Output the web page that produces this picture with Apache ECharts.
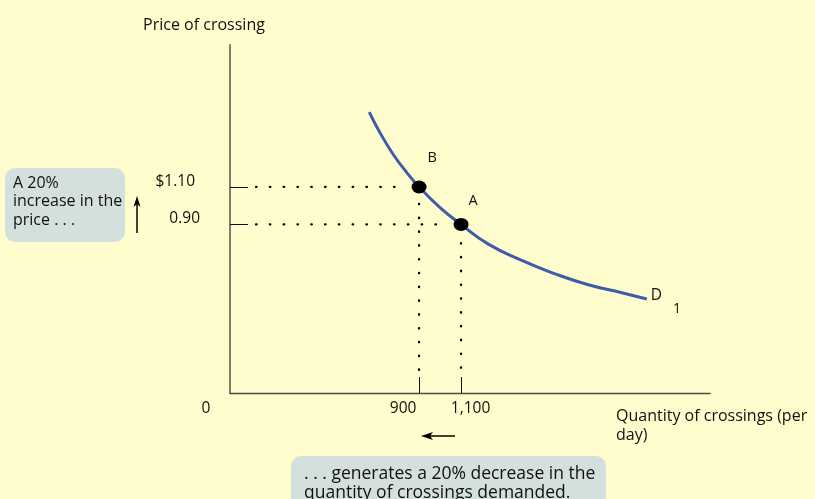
<!DOCTYPE html>
<html>
<head>
<meta charset="utf-8">
<script src="https://cdn.jsdelivr.net/npm/echarts@6/dist/echarts.min.js"></script>
<style>
html,body{margin:0;padding:0;background:#FFFDCD;}
#chart{width:815px;height:499px;}
</style>
</head>
<body>
<div id="chart"></div>
<script>
// Demand curve D1 (quantity of crossings per day, price of crossing)
const curveQuantity = [663, 714, 778, 841, 900, 1000, 1100, 1230, 1389, 1548, 1706, 1865, 1984];
const curvePrice    = [1.50, 1.39, 1.272, 1.178, 1.10, 0.99, 0.90, 0.795, 0.708, 0.636, 0.578, 0.535, 0.502];
// Labelled points
const pointNames    = ['B', 'A'];
const pointQuantity = [900, 1100];
const pointPrice    = [1.10, 0.90];
// Tick labels
const xTickValues = [0, 900, 1100];
const xTickLabels = ['0', '900', '1,100'];
const yTickValues = [0.90, 1.10];
const yTickLabels = ['0.90', '$1.10'];

const FONT = '"Open Sans", sans-serif';
const FS = 16;
const chart = echarts.init(document.getElementById('chart'));

const curveData = curveQuantity.map((q, i) => [q, curvePrice[i]]);
const labelOffsets = [[13, -10], [12, -5]];
const pointData = pointQuantity.map((q, i) => ({
  name: pointNames[i], value: [q, pointPrice[i]],
  label: { offset: labelOffsets[i] }
}));

// dotted guide lines (from axes to the points)
const xMax = 2285, yMax = 1.858;
const hStart = 124;          // horizontal guides begin a little right of the y axis
const vEnd = 0.107;          // vertical guides stop above the x-axis ticks
const guides = [
  [[hStart, pointPrice[0]], [pointQuantity[0] - 90, pointPrice[0]]],
  [[hStart, pointPrice[1]], [pointQuantity[1] - 95, pointPrice[1]]],
  [[pointQuantity[0], pointPrice[0] - 0.09], [pointQuantity[0], vEnd]],
  [[pointQuantity[1], pointPrice[1] - 0.10], [pointQuantity[1], vEnd]]
];
const guideSeries = guides.map(g => ({
  type: 'line', data: g, showSymbol: false, silent: true, z: 1,
  lineStyle: { color: '#000', width: 2.3, type: [0.5, 13.3], cap: 'round' }
}));

const txt = (extra) => Object.assign({ fontFamily: FONT, fontSize: FS, color: '#111' }, extra);

chart.setOption({
  backgroundColor: '#FFFDCD',
  animation: false,
  grid: { left: 230, right: 105, top: 45, bottom: 106 },
  xAxis: {
    type: 'value', min: 0, max: xMax,
    splitLine: { show: false },
    axisLine: { show: true, onZero: false, lineStyle: { color: '#4a4a40', width: 1.3 } },
    axisTick: { show: true, inside: true, length: 16, customValues: [900, 1100], lineStyle: { color: '#111', width: 1 } },
    axisLabel: {
      customValues: xTickValues, margin: 8,
      formatter: v => { const l = xTickLabels[xTickValues.indexOf(v)]; return '{' + (l === '0' ? 'z' : l === '900' ? 'n' : 'e') + '|' + l + '}'; },
      rich: {
        z: txt({ fontSize: 15.5, padding: [0, 48, 0, 0] }),
        n: txt({ fontSize: 15.5, padding: [0, 32, 0, 0] }),
        e: txt({ fontSize: 15.5, padding: [0, 0, 0, 19] })
      }
    }
  },
  yAxis: {
    type: 'value', min: 0, max: yMax,
    name: 'Price of crossing', nameLocation: 'end', nameGap: 12,
    nameTextStyle: txt({ padding: [0, 52, 0, 0] }),
    splitLine: { show: false },
    axisLine: { show: true, onZero: false, lineStyle: { color: '#7d7d68', width: 2 } },
    axisTick: { show: true, inside: true, length: 18, customValues: yTickValues, lineStyle: { color: '#111', width: 1 } },
    axisLabel: {
      customValues: yTickValues, margin: 30,
      formatter: v => { const l = yTickLabels[yTickValues.indexOf(v)]; return '{' + (l[0] === '$' ? 'd' : 'p') + '|' + l + '}'; },
      rich: {
        d: txt({ fontSize: 15.5, padding: [0, 5, 10, 0] }),
        p: txt({ fontSize: 15.5, padding: [0, 0, 11, 0] })
      }
    }
  },
  series: [
    ...guideSeries,
    {
      type: 'line', data: curveData, smooth: 0.5, showSymbol: false, z: 3,
      lineStyle: { color: '#3D5CAA', width: 3 },
      endLabel: {
        show: true, distance: 4,
        formatter: '{d|D}{s|1}',
        rich: {
          d: txt({ fontSize: 15.5, padding: [0, 0, 6, 0] }),
          s: txt({ fontSize: 14, padding: [20, 0, 0, 11] })
        }
      }
    },
    {
      type: 'scatter', data: pointData, symbol: 'circle', symbolSize: [15, 13], z: 5,
      itemStyle: { color: '#000', opacity: 1 },
      label: Object.assign({ show: true, formatter: '{b}', position: 'top' }, txt({ fontSize: 14.5 }))
    }
  ],
  graphic: [
    { type: 'rect', shape: { x: 5, y: 168, width: 120, height: 74, r: 10 }, style: { fill: '#D4E0DE' } },
    { type: 'text', left: 13, top: 174, style: { text: 'A 20%\nincrease in the\nprice . . .', fontFamily: FONT, fontSize: FS, lineHeight: 18.5, fill: '#111' } },
    // up arrow
    { type: 'line', shape: { x1: 137, y1: 233, x2: 137, y2: 202 }, style: { stroke: '#000', lineWidth: 1.5 } },
    { type: 'polygon', shape: { points: [[137, 196], [133.5, 207], [137, 204], [140.5, 207]] }, style: { fill: '#000' } },
    // left arrow
    { type: 'line', shape: { x1: 455, y1: 436, x2: 428, y2: 436 }, style: { stroke: '#000', lineWidth: 1.5 } },
    { type: 'polygon', shape: { points: [[421, 436], [433, 432], [430, 436], [433, 440]] }, style: { fill: '#000' } },
    // x axis name
    { type: 'text', left: 616, top: 407, style: { text: 'Quantity of crossings (per\nday)', fontFamily: FONT, fontSize: FS, lineHeight: 19, fill: '#111' } },
    // bottom box
    { type: 'rect', shape: { x: 291, y: 456, width: 315, height: 60, r: 10 }, style: { fill: '#D4E0DE' } },
    { type: 'text', left: 304, top: 465, style: { text: '. . . generates a 20% decrease in the\nquantity of crossings demanded.', fontFamily: FONT, fontSize: 17.5, lineHeight: 18.5, fill: '#111' } }
  ]
});
</script>
</body>
</html>
